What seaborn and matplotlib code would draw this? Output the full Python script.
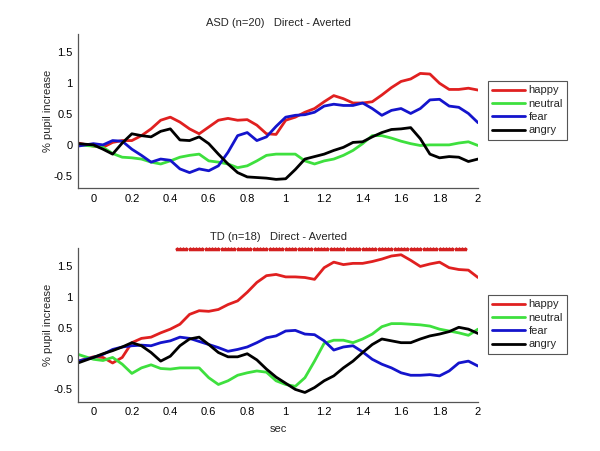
import numpy as np
import pandas as pd
import matplotlib
matplotlib.use("Agg")
import matplotlib.pyplot as plt
from matplotlib.ticker import FuncFormatter
import seaborn as sns

# ---------------- data ----------------
time = [-0.08, 0.0, 0.05, 0.10, 0.15, 0.20, 0.25, 0.30, 0.35, 0.40, 0.45,
        0.50, 0.55, 0.60, 0.65, 0.70, 0.75, 0.80, 0.85, 0.90, 0.95,
        1.00, 1.05, 1.10, 1.15, 1.20, 1.25, 1.30, 1.35, 1.40, 1.45,
        1.50, 1.55, 1.60, 1.65, 1.70, 1.75, 1.80, 1.85, 1.90, 1.95, 2.00]

emotions = ["happy", "neutral", "fear", "angry"]

asd_happy = [0.03, -0.02, -0.04, 0.04, 0.07, 0.07, 0.15, 0.26, 0.40, 0.45,
             0.37, 0.26, 0.18, 0.29, 0.40, 0.43, 0.40, 0.41, 0.32, 0.18,
             0.17, 0.40, 0.45, 0.53, 0.59, 0.70, 0.80, 0.75, 0.68, 0.68,
             0.70, 0.81, 0.93, 1.03, 1.07, 1.16, 1.15, 1.00, 0.90, 0.90, 0.92, 0.89]
asd_neutral = [0.00, -0.02, -0.04, -0.14, -0.20, -0.21, -0.23, -0.28, -0.31, -0.26,
               -0.20, -0.17, -0.15, -0.26, -0.28, -0.31, -0.37, -0.34, -0.26, -0.17,
               -0.15, -0.15, -0.15, -0.26, -0.31, -0.26, -0.23, -0.17, -0.09, 0.02,
               0.15, 0.15, 0.11, 0.06, 0.02, -0.01, 0.00, 0.00, 0.00, 0.03, 0.05, -0.01]
asd_fear = [-0.02, 0.02, 0.00, 0.07, 0.06, -0.07, -0.17, -0.28, -0.23, -0.25,
            -0.39, -0.45, -0.39, -0.42, -0.34, -0.12, 0.15, 0.20, 0.07, 0.13,
            0.30, 0.45, 0.48, 0.49, 0.53, 0.63, 0.66, 0.64, 0.64, 0.68,
            0.59, 0.48, 0.56, 0.59, 0.51, 0.59, 0.73, 0.74, 0.63, 0.61, 0.51, 0.36]
asd_angry = [0.02, 0.00, -0.07, -0.15, 0.03, 0.18, 0.15, 0.13, 0.22, 0.26,
             0.08, 0.07, 0.13, 0.02, -0.15, -0.31, -0.45, -0.52, -0.53, -0.54,
             -0.56, -0.55, -0.40, -0.23, -0.19, -0.15, -0.09, -0.04, 0.04, 0.05,
             0.13, 0.20, 0.25, 0.26, 0.28, 0.10, -0.15, -0.21, -0.19, -0.20, -0.27, -0.23]

td_happy = [-0.04, 0.03, 0.02, -0.07, 0.02, 0.26, 0.33, 0.35, 0.42, 0.48,
            0.56, 0.72, 0.78, 0.77, 0.80, 0.88, 0.94, 1.08, 1.24, 1.35,
            1.37, 1.33, 1.33, 1.32, 1.29, 1.48, 1.57, 1.53, 1.55, 1.55,
            1.58, 1.62, 1.67, 1.69, 1.60, 1.50, 1.54, 1.57, 1.48, 1.45, 1.44, 1.32]
td_neutral = [0.07, -0.01, -0.03, 0.02, -0.09, -0.24, -0.15, -0.10, -0.16, -0.17,
              -0.15, -0.15, -0.15, -0.31, -0.42, -0.36, -0.27, -0.23, -0.20, -0.22,
              -0.36, -0.42, -0.45, -0.31, -0.04, 0.25, 0.30, 0.30, 0.26, 0.32,
              0.40, 0.52, 0.57, 0.57, 0.56, 0.55, 0.53, 0.48, 0.45, 0.42, 0.38, 0.48]
td_fear = [-0.04, 0.02, 0.07, 0.15, 0.19, 0.21, 0.22, 0.21, 0.26, 0.29,
           0.35, 0.33, 0.28, 0.23, 0.18, 0.12, 0.15, 0.19, 0.26, 0.34,
           0.37, 0.45, 0.46, 0.40, 0.39, 0.29, 0.14, 0.19, 0.21, 0.11,
           -0.01, -0.09, -0.15, -0.23, -0.27, -0.27, -0.26, -0.28, -0.20, -0.07, -0.04, -0.12]
td_angry = [-0.07, 0.02, 0.08, 0.13, 0.19, 0.26, 0.21, 0.10, -0.04, 0.04,
            0.21, 0.32, 0.35, 0.23, 0.10, 0.03, 0.03, 0.08, -0.02, -0.17,
            -0.30, -0.40, -0.50, -0.55, -0.47, -0.36, -0.28, -0.15, -0.04, 0.10,
            0.23, 0.32, 0.29, 0.26, 0.26, 0.32, 0.37, 0.40, 0.44, 0.51, 0.48, 0.41]

# significant samples (60 Hz sample indices) for TD
sig_first_sample = 26
sig_last_sample = 116
sample_rate = 60.0
sig_level = 1.78

panels = [
    ("ASD (n=20)   Direct - Averted", [asd_happy, asd_neutral, asd_fear, asd_angry], False),
    ("TD (n=18)   Direct - Averted", [td_happy, td_neutral, td_fear, td_angry], True),
]

colors = {"happy": "#e02020", "neutral": "#3ee03e", "fear": "#1414cc", "angry": "#000000"}

# ---------------- style ----------------
sns.set_style("white")
plt.rcParams["font.family"] = ["Liberation Sans", "DejaVu Sans"]
plt.rcParams["font.size"] = 8

fig = plt.figure(figsize=(6.0, 4.51), dpi=100)
W, H = 600.0, 451.0
axes_px = [(78, 34, 478, 188), (78, 248, 478, 401.7)]

fmt = FuncFormatter(lambda v, p: "%g" % round(v, 2))

for (title, series, show_sig), (l, t, r, b) in zip(panels, axes_px):
    ax = fig.add_axes([l / W, 1 - b / H, (r - l) / W, (b - t) / H])
    df = pd.DataFrame({
        "time": np.tile(time, len(emotions)),
        "value": np.concatenate(series),
        "emotion": np.repeat(emotions, len(time)),
    })
    sns.lineplot(data=df, x="time", y="value", hue="emotion", hue_order=emotions,
                 palette=colors, linewidth=2.0, ax=ax, legend=True)
    if show_sig:
        sig_t = np.arange(sig_first_sample, sig_last_sample + 1) / sample_rate
        ax.plot(sig_t, np.full(len(sig_t), sig_level), linestyle="none",
                marker="*", markersize=2.6, color="#d42020", clip_on=False)
    ax.set_xlim(-0.08, 2.0)
    ax.set_ylim(-0.7, 1.8)
    ax.set_xticks(np.arange(0, 2.01, 0.2))
    ax.set_yticks([-0.5, 0, 0.5, 1, 1.5])
    ax.xaxis.set_major_formatter(fmt)
    ax.yaxis.set_major_formatter(fmt)
    ax.tick_params(direction="in", length=4, width=0.8, colors="#444444",
                   labelcolor="black", labelsize=8, pad=4)
    for s in ["top", "right"]:
        ax.spines[s].set_visible(False)
    for s in ["left", "bottom"]:
        ax.spines[s].set_color("#555555")
        ax.spines[s].set_linewidth(0.9)
    ax.set_title(title, fontsize=8, pad=6)
    ax.set_ylabel("% pupil increase", fontsize=8, labelpad=0)
    if show_sig:
        ax.set_xlabel("sec", fontsize=8, labelpad=5)
    else:
        ax.set_xlabel("")
    leg = ax.legend(loc="upper left",
                    bbox_to_anchor=(488 / W, 1 - (t + 47) / H),
                    bbox_transform=fig.transFigure, borderaxespad=0,
                    fancybox=False, framealpha=1, edgecolor="#555555",
                    handlelength=2.9, handletextpad=0.35, labelspacing=0.3,
                    borderpad=0.4, fontsize=8)
    leg.get_frame().set_linewidth(0.8)
    for line in leg.get_lines():
        line.set_linewidth(2.0)

fig.savefig("out.png", dpi=100)
